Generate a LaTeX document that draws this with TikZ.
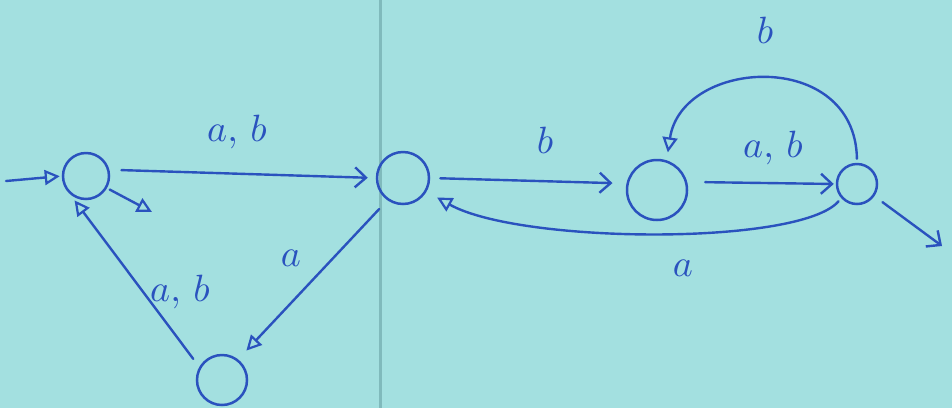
\documentclass[tikz,border=0pt]{standalone}
\usepackage{graphicx}
\usetikzlibrary{arrows.meta}
\definecolor{paper}{RGB}{163,224,224}
\definecolor{fold}{RGB}{128,186,188}
\definecolor{ink}{RGB}{42,82,190}
\newcommand{\handlbl}[1]{\scalebox{3.8}{$#1$}}
\begin{document}
\begin{tikzpicture}[x=1pt,y=-1pt,
  state/.style={circle,draw=ink,line width=2.5pt,inner sep=0pt},
  edge/.style={draw=ink,line width=2.4pt,line cap=round},
  tri/.style={-{Triangle[open,length=15pt,width=15pt,line width=2.2pt]}},
  chev/.style={-{Straight Barb[length=11pt,width=20pt,line width=2.4pt]}},
  lbl/.style={text=ink,inner sep=0pt}]
\useasboundingbox (0,0) rectangle (952,408);
\fill[paper] (0,0) rectangle (952,408);
% crease of the sheet
\draw[fold,line width=3pt] (380,0) -- (380,408);

% states
\node[state,minimum size=46pt] (q0) at (86,176) {};
\node[state,minimum size=52pt] (q1) at (403,178) {};
\node[state,minimum size=50pt] (q2) at (222,380) {};
\node[state,minimum size=60pt] (q3) at (657,190) {};
\node[state,minimum size=40pt] (q4) at (857,184) {};

% free ends
\coordinate (start) at (6,181);
\coordinate (out0) at (152,212);
\coordinate (out4) at (942,246);

% transitions
\draw[edge,tri,shorten >=2pt] (start) -- (q0.west);
\draw[edge,tri,shorten <=3pt] (q0.-30) -- (out0);
\draw[edge,chev,shorten <=12pt,shorten >=8pt] (q0.15) -- (q1.180);
\draw[edge,tri,shorten <=12pt,shorten >=12pt] (q1.235) -- (q2.52);
\draw[edge,tri,shorten <=10pt,shorten >=8pt] (q2.150) -- (q0.228);
\draw[edge,chev,shorten <=10pt,shorten >=14pt] (q1.0) -- (q3.168);
\draw[edge,chev,shorten <=18pt,shorten >=2pt] (q3.15) -- (q4.180);
\draw[edge,tri,shorten <=4pt,shorten >=8pt] (q4.north) .. controls (855,48) and (682,58) .. (q3.72);
\draw[edge,tri,shorten <=4pt,shorten >=12pt] (q4.222) .. controls (800,246) and (520,244) .. (q1.-30);
\draw[edge,chev,shorten <=10pt] (q4.-35) -- (out4);

% labels
\node[lbl] (l01) at (237,132) {\handlbl{a,\,b}};
\node[lbl] (l12) at (291,258) {\handlbl{a}};
\node[lbl] (l20) at (180,292) {\handlbl{a,\,b}};
\node[lbl] (l13) at (545,140) {\handlbl{b}};
\node[lbl] (l34) at (773,148) {\handlbl{a,\,b}};
\node[lbl] (l43) at (765,30) {\handlbl{b}};
\node[lbl] (l41) at (683,268) {\handlbl{a}};
\end{tikzpicture}
\end{document}
